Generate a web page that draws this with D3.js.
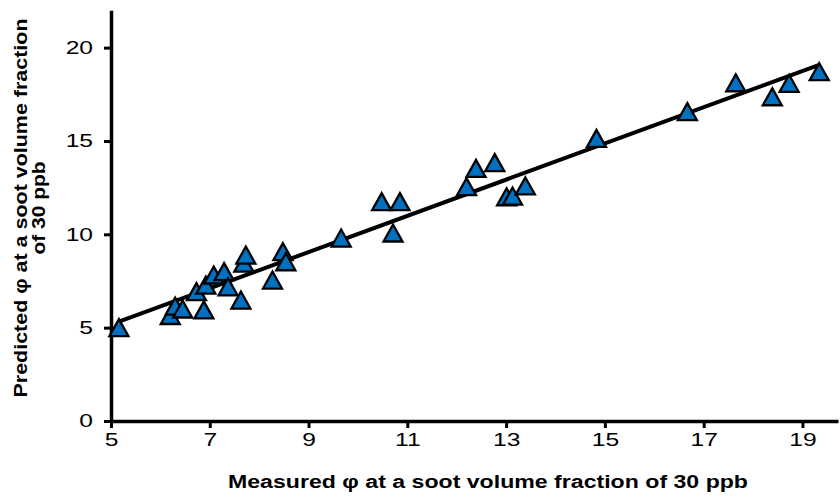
<!DOCTYPE html>
<html>
<head>
<meta charset="utf-8">
<script src="https://cdn.jsdelivr.net/npm/d3@7"></script>
<style>
  html, body { margin: 0; padding: 0; background: #fff; }
  svg { display: block; font-family: "Liberation Sans", Arial, sans-serif; }
</style>
</head>
<body>
<svg id="chart" width="840" height="500"></svg>
<script>
// measured vs predicted phi
const measured = [5.16, 6.2, 6.3, 6.45, 6.73, 6.88, 6.92, 7.08, 7.29, 7.37, 7.63, 7.69, 7.73,
  8.27, 8.48, 8.54, 9.66, 10.48, 10.71, 10.85, 12.2, 12.39, 12.77, 13.01, 13.13, 13.39,
  14.83, 16.67, 17.65, 18.39, 18.73, 19.34];
const predicted = [5.0, 5.65, 6.15, 6.0, 6.93, 5.95, 7.28, 7.82, 8.0, 7.19, 6.48, 8.46, 8.89,
  7.55, 9.07, 8.53, 9.8, 11.75, 10.07, 11.75, 12.55, 13.53, 13.84, 12.01, 12.05, 12.59,
  15.14, 16.57, 18.12, 17.37, 18.09, 18.71];

const xTicks = [5, 7, 9, 11, 13, 15, 17, 19];
const yTicks = [0, 5, 10, 15, 20];

const xTitle = 'Measured \u03c6 at a soot volume fraction of 30 ppb';
const yTitle = ['Predicted \u03c6 at a soot volume fraction', 'of 30 ppb'];

const svg = d3.select('#chart');

// the original figure is a bit stretched sideways, so text gets widened
const stretch = (sel, k) => sel.each(function () {
  const w = this.getComputedTextLength();
  d3.select(this).attr('textLength', w * k).attr('lengthAdjust', 'spacingAndGlyphs');
});

// plot area
const x = d3.scaleLinear().domain([5, 19.72]).range([111, 838]);
const y = d3.scaleLinear().domain([0, 22]).range([421, 10.3]);

const points = measured.map((m, i) => ({ m, p: predicted[i] }));

// least squares trend line
const mx = d3.mean(measured), my = d3.mean(predicted);
const slope = d3.sum(points, (d) => (d.m - mx) * (d.p - my)) / d3.sum(points, (d) => (d.m - mx) ** 2);
const icpt = my - slope * mx;
const [xMin, xMax] = d3.extent(measured);

// axes
const xAxis = svg.append('g')
  .attr('transform', `translate(0,${y(0)})`)
  .call(d3.axisBottom(x).tickValues(xTicks).tickSize(7).tickPadding(5).tickSizeOuter(0));
const yAxis = svg.append('g')
  .attr('transform', `translate(${x(5)},0)`)
  .call(d3.axisLeft(y).tickValues(yTicks).tickSize(7).tickPadding(11).tickSizeOuter(0));

[xAxis, yAxis].forEach((g) => {
  g.select('.domain').attr('stroke', '#000').attr('stroke-width', 3.5);
  g.selectAll('.tick line').attr('stroke', '#000').attr('stroke-width', 3);
  g.selectAll('.tick text')
    .attr('fill', '#000')
    .style('font-family', '"Liberation Sans", Arial, sans-serif')
    .style('font-size', '18.5px')
    .call(stretch, 1.33);
});

// trend line
svg.append('line')
  .attr('x1', x(xMin)).attr('y1', y(slope * xMin + icpt))
  .attr('x2', x(xMax)).attr('y2', y(slope * xMax + icpt))
  .attr('stroke', '#000')
  .attr('stroke-width', 4);

// triangle markers, centred on the point
const tri = 'M0,-8.5L9.5,8.5L-9.5,8.5Z';
svg.append('g')
  .selectAll('path')
  .data(points)
  .join('path')
  .attr('d', tri)
  .attr('transform', (d) => `translate(${x(d.m)},${y(d.p)})`)
  .attr('fill', '#0070c0')
  .attr('stroke', '#000')
  .attr('stroke-width', 2.3)
  .attr('stroke-linejoin', 'miter');

// titles
svg.append('text')
  .attr('x', 488)
  .attr('y', 488)
  .attr('text-anchor', 'middle')
  .style('font-size', '18px')
  .style('font-weight', 'bold')
  .text(xTitle)
  .attr('textLength', 520)
  .attr('lengthAdjust', 'spacingAndGlyphs');

svg.append('text')
  .attr('transform', 'translate(27,208) rotate(-90)')
  .attr('text-anchor', 'middle')
  .style('font-size', '18px')
  .style('font-weight', 'bold')
  .selectAll('tspan')
  .data(yTitle)
  .join('tspan')
  .attr('x', 0)
  .attr('y', (d, i) => i * 18)
  .text((d) => d)
  .attr('textLength', (d, i) => (i ? 93 : 379))
  .attr('lengthAdjust', 'spacingAndGlyphs');
</script>
</body>
</html>
